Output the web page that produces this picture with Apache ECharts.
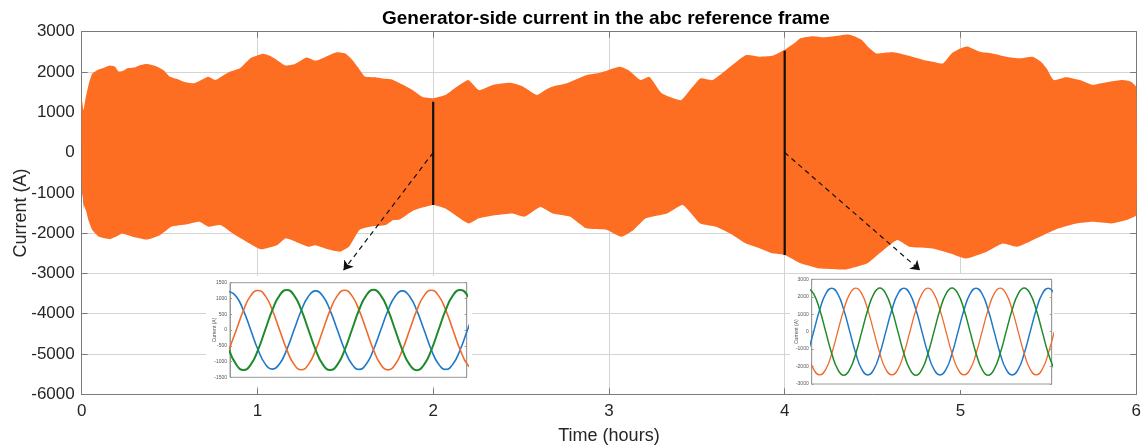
<!DOCTYPE html>
<html><head><meta charset="utf-8">
<script src="https://cdn.jsdelivr.net/npm/echarts@6/dist/echarts.min.js"></script>
<style>html,body{margin:0;padding:0;background:#fff}#c{width:1143px;height:447px}</style>
</head><body><div id="c"></div>
<script>
// ---------- main chart data (time in hours, current in A) ----------
const upperT = [0.00,0.01,0.02,0.04,0.06,0.09,0.12,0.16,0.19,0.21,0.24,0.26,0.30,0.33,0.37,0.42,0.465,0.50,0.54,0.58,0.64,0.68,0.72,0.76,0.80,0.84,0.90,0.96,1.03,1.07,1.11,1.16,1.21,1.28,1.33,1.39,1.45,1.50,1.54,1.57,1.61,1.67,1.71,1.76,1.82,1.88,1.94,2.00,2.07,2.14,2.20,2.26,2.34,2.44,2.51,2.59,2.64,2.68,2.76,2.87,2.95,3.06,3.11,3.18,3.23,3.30,3.41,3.47,3.52,3.59,3.69,3.78,3.86,3.93,4.00,4.05,4.09,4.16,4.22,4.27,4.36,4.40,4.44,4.48,4.52,4.57,4.62,4.69,4.74,4.79,4.85,4.90,4.95,5.00,5.04,5.11,5.18,5.26,5.34,5.41,5.46,5.49,5.53,5.60,5.68,5.75,5.80,5.85,5.92,5.97,6.00];
const upperV = [1350,1050,1300,1700,1960,2050,2090,2160,2130,2010,2040,2090,2110,2170,2200,2150,2050,1890,1830,1760,1720,1800,1880,1800,1900,2000,2090,2340,2450,2400,2300,2160,2190,2360,2280,2380,2490,2460,2300,2130,1890,1870,1840,1820,1700,1560,1380,1350,1430,1650,1800,1550,1680,1730,1640,1430,1560,1640,1720,1920,1980,2130,2050,1800,1880,1470,1300,1600,1840,1800,2130,2420,2380,2400,2550,2700,2840,2890,2860,2880,2930,2880,2790,2600,2460,2480,2490,2420,2360,2300,2250,2210,2460,2580,2630,2500,2460,2380,2340,2380,2250,2090,1800,1870,1800,1680,1720,1760,1800,1760,1630];
const lowerT = [0.00,0.012,0.025,0.04,0.06,0.10,0.16,0.20,0.23,0.29,0.37,0.445,0.51,0.60,0.67,0.72,0.79,0.86,0.94,1.02,1.11,1.16,1.22,1.29,1.33,1.40,1.47,1.52,1.58,1.64,1.73,1.77,1.81,1.89,2.00,2.07,2.20,2.26,2.36,2.45,2.52,2.61,2.68,2.78,2.87,2.99,3.07,3.14,3.21,3.33,3.42,3.52,3.61,3.69,3.78,3.86,3.93,4.00,4.09,4.20,4.35,4.47,4.54,4.64,4.71,4.84,4.94,5.03,5.15,5.24,5.32,5.39,5.49,5.56,5.66,5.75,5.86,5.94,6.00];
const lowerV = [-800,-1300,-1450,-1700,-1920,-2090,-2150,-2080,-2010,-2090,-2160,-2050,-1840,-1780,-1720,-1840,-1800,-2010,-2220,-2400,-2300,-2130,-2220,-2340,-2300,-2400,-2460,-2340,-1920,-1840,-1800,-1680,-1660,-1430,-1300,-1390,-1760,-1630,-1550,-1510,-1590,-1350,-1510,-1590,-1880,-1920,-2090,-1920,-1630,-1510,-1300,-1760,-1840,-2010,-2260,-2380,-2500,-2545,-2750,-2880,-2900,-2750,-2500,-2170,-2340,-2380,-2500,-2630,-2460,-2260,-2340,-2220,-2010,-1880,-1760,-1720,-1760,-1680,-1550];
// small blue phase-a sliver visible at t = 0
const sliverT = [0.000, 0.012];
const sliverV = [-700, -1430];

// zoomed-in snapshots
const snapshotT = [2, 4];
const snapshotLow = [-1300, -2545];
const snapshotHigh = [1260, 2530];
const arrowFrom = [[2, 0], [4, 0]];
const arrowTo = [[1.49, -2920], [4.77, -2920]];

// axes
const xMin = 0, xMax = 6, xStep = 1;
const yMin = -6000, yMax = 3000, yStep = 1000;

// ---------- inset 1 (around t = 2 h), samples every 30 electrical degrees ----------
const inset1Blue   = [1220,1065,615,0,-620,-1075,-1240,-1070,-615,5,620,1070,1240,1070,615,0,-625,-1080,-1250,-1080,-620,0,620,1070,1240,1065,615,0,-625,-1080,-1250,-1080,-625,0,620];
const inset1Orange = [-620,0,625,1090,1255,1090,625,0,-630,-1090,-1260,-1090,-630,0,630,1090,1260,1090,630,0,-630,-1095,-1265,-1095,-630,0,630,1090,1260,1090,630,0,-630,-1095,-1260];
const inset1Green  = [-630,-1100,-1270,-1100,-635,0,635,1100,1270,1100,635,0,-635,-1100,-1270,-1100,-635,0,635,1100,1275,1100,635,0,-635,-1100,-1275,-1100,-635,0,635,1100,1270,1100,635];
const inset1Window = [0.13, 32.9];
const inset1Y = [-1500, 1500, 500];

// ---------- inset 2 (around t = 4 h) ----------
const inset2Blue   = [-1250,0,1250,2165,2490,2165,1250,0,-1250,-2165,-2480,-2165,-1250,0,1250,2165,2490,2165,1250,0,-1250,-2165,-2480,-2165,-1250,0,1250,2165,2490,2165,1250,0,-1250,-2165,-2480,-2165,-1250,0,1250,2165,2490,2165];
const inset2Orange = [-1250,-2165,-2480,-2165,-1250,0,1250,2165,2490,2165,1250,0,-1250,-2165,-2480,-2165,-1250,0,1250,2165,2490,2165,1250,0,-1250,-2165,-2480,-2165,-1250,0,1250,2165,2490,2165,1250,0,-1250,-2165,-2480,-2165,-1250,0];
const inset2Green  = [2500,2165,1250,0,-1250,-2165,-2500,-2165,-1250,0,1250,2165,2500,2165,1250,0,-1250,-2165,-2500,-2165,-1250,0,1250,2165,2500,2165,1250,0,-1250,-2165,-2500,-2165,-1250,0,1250,2165,2500,2165,1250,0,-1250,-2165];
const inset2Window = [0.67, 40.57];
const inset2Y = [-3000, 3000, 1000];

// ---------- styling ----------
const FONT = 'Liberation Sans, Arial, Helvetica, sans-serif';
const ORANGE = '#fd6d22';
const C_BLUE = '#1f78c8', C_ORANGE = '#ef6a2b', C_GREEN = '#1f8a2b';
const AX = '#7a7a7a', GRIDC = '#d4d4d4', TXT = '#262626';
const plain = v => String(v);

const chart = echarts.init(document.getElementById('c'), null, {renderer: 'canvas'});

function bandItem(tU, vU, tL, vL, fill, sm) {
  return function (params, api) {
    const pts = [];
    for (let i = 0; i < tU.length; i++) pts.push(api.coord([tU[i], vU[i]]));
    for (let i = tL.length - 1; i >= 0; i--) pts.push(api.coord([tL[i], vL[i]]));
    return {type: 'polygon', shape: {points: pts, smooth: sm}, style: {fill: fill}};
  };
}
const pair = arr => arr.map((v, i) => [i, v]);

function insetAxes(g, win, yr) {
  return {
    x: {gridIndex: g, type: 'value', min: win[0], max: win[1], z: 10,
        axisLine: {show: false}, axisTick: {show: false}, axisLabel: {show: false}, splitLine: {show: false}},
    yl: {gridIndex: g, type: 'value', min: yr[0], max: yr[1], interval: yr[2], z: 10,
         axisLine: {show: true, lineStyle: {color: '#9a9a9a', width: 1}},
         axisTick: {show: true, inside: true, length: 2, lineStyle: {color: '#9a9a9a'}},
         axisLabel: {fontSize: 5, color: '#555', margin: 3, fontFamily: FONT, formatter: plain},
         splitLine: {show: false},
         name: 'Current (A)', nameLocation: 'middle', nameGap: 13, nameMoveOverlap: false,
         nameTextStyle: {fontSize: 5, color: '#555', fontFamily: FONT}},
    yr: {gridIndex: g, type: 'value', position: 'right', min: yr[0], max: yr[1], interval: yr[2], z: 10,
         axisLine: {show: true, lineStyle: {color: '#9a9a9a', width: 1}},
         axisTick: {show: true, inside: true, length: 2, lineStyle: {color: '#9a9a9a'}},
         axisLabel: {show: false}, splitLine: {show: false}}
  };
}
const a1 = insetAxes(1, inset1Window, inset1Y);
const a2 = insetAxes(2, inset2Window, inset2Y);

function insetLine(data, color, xi, yi, w) {
  return {type: 'line', data: pair(data), xAxisIndex: xi, yAxisIndex: yi, smooth: 0.5, showSymbol: false,
          clip: true, z: 12, silent: true, lineStyle: {color: color, width: w}};
}

const series = [
  {type: 'custom', xAxisIndex: 0, yAxisIndex: 0, z: 1, silent: true, clip: true, data: [[0, 0]],
   renderItem: bandItem(sliverT, [1000, 1000], sliverT, sliverV, '#1f78c8', 0)},
  {type: 'custom', xAxisIndex: 0, yAxisIndex: 0, z: 2, silent: true, clip: true, data: [[0, 0]],
   renderItem: bandItem(upperT, upperV, lowerT, lowerV, ORANGE, 0.15)}
];
snapshotT.forEach((t, i) => {
  series.push({type: 'line', xAxisIndex: 0, yAxisIndex: 0, z: 4, silent: true, showSymbol: false,
    data: [[t, snapshotLow[i]], [t, snapshotHigh[i]]], lineStyle: {color: '#111', width: 2.2}});
});
series.push({type: 'lines', coordinateSystem: 'cartesian2d', xAxisIndex: 0, yAxisIndex: 0, z: 5, silent: true,
  symbol: ['none', 'arrow'], symbolSize: 9,
  lineStyle: {color: '#111', width: 1.2, type: [5, 4], opacity: 1},
  data: arrowFrom.map((f, i) => ({coords: [f, arrowTo[i]]}))});
series.push(insetLine(inset1Blue, C_BLUE, 2, 2, 1.6));
series.push(insetLine(inset1Orange, C_ORANGE, 2, 2, 1.6));
series.push(insetLine(inset1Green, C_GREEN, 2, 2, 2));
series.push(insetLine(inset2Blue, C_BLUE, 3, 4, 1.5));
series.push(insetLine(inset2Orange, C_ORANGE, 3, 4, 1.3));
series.push(insetLine(inset2Green, C_GREEN, 3, 4, 1.5));

const option = {
  animation: false,
  backgroundColor: '#fff',
  textStyle: {fontFamily: FONT},
  title: {text: 'Generator-side current in the abc reference frame', left: 377, top: 4,
          textStyle: {fontSize: 19, fontWeight: 'bold', color: '#000', fontFamily: FONT}},
  graphic: [
    {type: 'rect', z: 6, shape: {x: 206, y: 276, width: 266, height: 110}, style: {fill: '#fff'}, silent: true},
    {type: 'rect', z: 6, shape: {x: 790, y: 274, width: 264, height: 116}, style: {fill: '#fff'}, silent: true}
  ],
  grid: [
    {left: 81.7, top: 31.7, width: 1054.5, height: 362.6, containLabel: false, outerBoundsMode: 'none'},
    {left: 230, top: 282.7, width: 236.7, height: 94.6, show: true, z: 10, backgroundColor: '#fff',
     borderColor: '#9a9a9a', borderWidth: 1, outerBoundsMode: 'none'},
    {left: 811.7, top: 279.3, width: 240, height: 104.7, show: true, z: 10, backgroundColor: '#fff',
     borderColor: '#9a9a9a', borderWidth: 1, outerBoundsMode: 'none'}
  ],
  xAxis: [
    {gridIndex: 0, type: 'value', min: xMin, max: xMax, interval: xStep, position: 'bottom',
     axisLine: {show: true, onZero: false, lineStyle: {color: AX, width: 1}},
     axisTick: {show: true, inside: true, length: 6, lineStyle: {color: AX}},
     axisLabel: {fontSize: 17, color: TXT, margin: 9, fontFamily: FONT, formatter: plain},
     splitLine: {show: true, lineStyle: {color: GRIDC, width: 1}},
     name: 'Time (hours)', nameLocation: 'middle', nameGap: 33, nameMoveOverlap: false,
     nameTextStyle: {fontSize: 18, color: TXT, fontFamily: FONT}},
    {gridIndex: 0, type: 'value', min: xMin, max: xMax, interval: xStep, position: 'top',
     axisLine: {show: true, onZero: false, lineStyle: {color: AX, width: 1}},
     axisTick: {show: true, inside: true, length: 6, lineStyle: {color: AX}},
     axisLabel: {show: false}, splitLine: {show: false}},
    a1.x, a2.x
  ],
  yAxis: [
    {gridIndex: 0, type: 'value', min: yMin, max: yMax, interval: yStep, position: 'left',
     axisLine: {show: true, onZero: false, lineStyle: {color: AX, width: 1}},
     axisTick: {show: true, inside: true, length: 6, lineStyle: {color: AX}},
     axisLabel: {fontSize: 17, color: TXT, margin: 7, fontFamily: FONT, formatter: plain},
     splitLine: {show: true, lineStyle: {color: GRIDC, width: 1}},
     name: 'Current (A)', nameLocation: 'middle', nameGap: 52, nameMoveOverlap: false,
     nameTextStyle: {fontSize: 18, color: TXT, fontFamily: FONT}},
    {gridIndex: 0, type: 'value', min: yMin, max: yMax, interval: yStep, position: 'right',
     axisLine: {show: true, onZero: false, lineStyle: {color: AX, width: 1}},
     axisTick: {show: true, inside: true, length: 6, lineStyle: {color: AX}},
     axisLabel: {show: false}, splitLine: {show: false}},
    a1.yl, a1.yr, a2.yl, a2.yr
  ],
  series: series
};
chart.setOption(option);
</script></body></html>
